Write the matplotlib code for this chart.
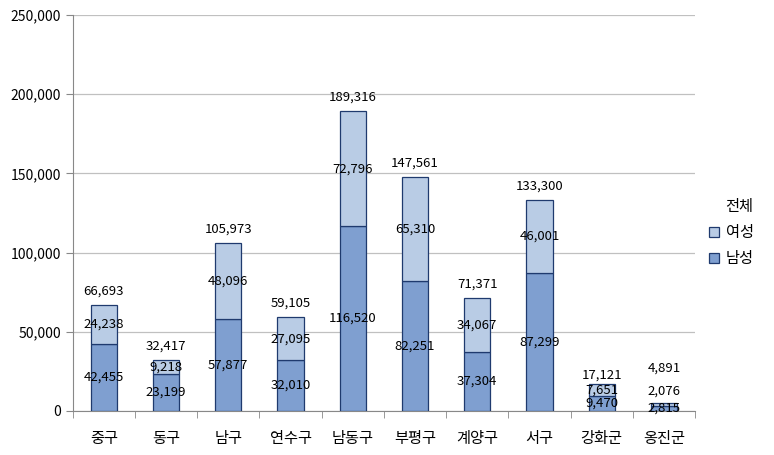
import numpy as np
import matplotlib.pyplot as plt
from matplotlib.ticker import FuncFormatter, FixedLocator

plt.rcParams['font.family'] = ['Noto Sans CJK KR', 'DejaVu Sans']

districts = ['중구', '동구', '남구', '연수구', '남동구', '부평구', '계양구', '서구', '강화군', '옹진군']
male = [42455, 23199, 57877, 32010, 116520, 82251, 37304, 87299, 9470, 2815]
female = [24238, 9218, 48096, 27095, 72796, 65310, 34067, 46001, 7651, 2076]
total = [66693, 32417, 105973, 59105, 189316, 147561, 71371, 133300, 17121, 4891]

fig = plt.figure(figsize=(7.74, 4.55), dpi=100)
ax = fig.add_axes([0.094, 0.097, 0.804, 0.870])

x = np.arange(len(districts))
w = 0.42
edge = '#1f3a6e'
ax.bar(x, male, w, color='#7f9fd0', edgecolor=edge, linewidth=0.9, label='남성', zorder=3)
ax.bar(x, female, w, bottom=male, color='#b9cce5', edgecolor=edge, linewidth=0.9, label='여성', zorder=3)

# label nudges (points) where the original moved small labels around
total_off = [10] * len(x)
total_off[8] = 6.5
total_off[9] = 25
fem_off = [0] * len(x)
fem_off[9] = 9.5

fmt = lambda v: f'{v:,}'
fs = 9.5
for i in range(len(x)):
    ax.text(x[i], male[i] / 2, fmt(male[i]), ha='center', va='center', fontsize=fs, zorder=4)
    ax.annotate(fmt(female[i]), (x[i], male[i] + female[i] / 2), xytext=(0, fem_off[i]),
                textcoords='offset points', ha='center', va='center', fontsize=fs, zorder=4)
    ax.annotate(fmt(total[i]), (x[i], total[i]), xytext=(0, total_off[i]),
                textcoords='offset points', ha='center', va='center', fontsize=fs, zorder=4)

ax.set_xlim(-0.5, len(x) - 0.5)
ax.set_ylim(0, 250000)
ax.set_yticks(np.arange(0, 250001, 50000))
ax.yaxis.set_major_formatter(FuncFormatter(lambda v, p: f'{int(v):,}'))
ax.grid(axis='y', color='#c0c0c0', linewidth=0.9, zorder=0)

ax.set_xticks(x)
ax.set_xticklabels(districts, fontsize=11)
ax.xaxis.set_minor_locator(FixedLocator(np.arange(-0.5, len(x), 1)))
ax.tick_params(axis='x', which='major', length=0, pad=14)
ax.tick_params(axis='x', which='minor', length=5, color='#888888', direction='out')
ax.tick_params(axis='y', length=5, color='#888888', labelsize=10)

for s in ['top', 'right']:
    ax.spines[s].set_visible(False)
for s in ['left', 'bottom']:
    ax.spines[s].set_color('#888888')

h, l = ax.get_legend_handles_labels()
leg = ax.legend(h[::-1], l[::-1], title='전체', loc='center left', bbox_to_anchor=(1.0, 0.45),
                frameon=False, fontsize=11, title_fontsize=11, handlelength=0.7, handleheight=0.7,
                handletextpad=0.4, labelspacing=0.6)
leg._legend_box.align = 'right'

fig.savefig('out.png', dpi=100)
